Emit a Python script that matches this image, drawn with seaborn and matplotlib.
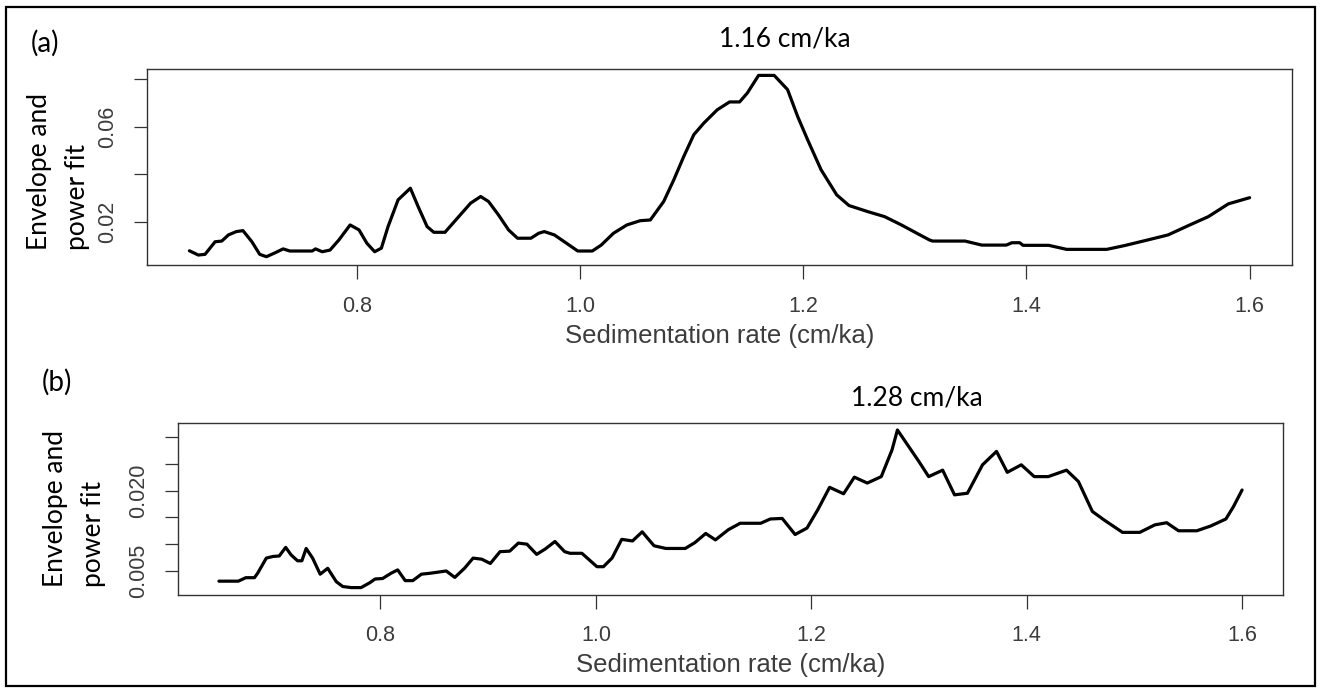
import matplotlib
matplotlib.use("Agg")
import matplotlib.pyplot as plt
import seaborn as sns
import pandas as pd
from matplotlib.patches import Rectangle

# ---- data -----------------------------------------------------------------
rate_a = [0.650, 0.658, 0.664, 0.673, 0.679, 0.685, 0.692, 0.698, 0.706, 0.713,
          0.719, 0.727, 0.734, 0.740, 0.760, 0.763, 0.769, 0.776, 0.784, 0.794,
          0.802, 0.809, 0.816, 0.822, 0.828, 0.837, 0.848, 0.855, 0.863, 0.869,
          0.879, 0.890, 0.902, 0.911, 0.918, 0.927, 0.936, 0.944, 0.956, 0.963,
          0.968, 0.977, 0.986, 0.998, 1.011, 1.019, 1.030, 1.042, 1.054, 1.063,
          1.075, 1.084, 1.093, 1.102, 1.111, 1.123, 1.134, 1.143, 1.150, 1.160,
          1.174, 1.186, 1.195, 1.204, 1.216, 1.230, 1.241, 1.258, 1.273, 1.288,
          1.303, 1.313, 1.316, 1.345, 1.360, 1.382, 1.387, 1.394, 1.397, 1.420,
          1.436, 1.472, 1.488, 1.509, 1.527, 1.545, 1.563, 1.581, 1.600]
env_a = [0.0077, 0.0059, 0.0062, 0.0115, 0.0118, 0.0144, 0.0158, 0.0162, 0.0115, 0.0062,
         0.0052, 0.0069, 0.0085, 0.0076, 0.0076, 0.0085, 0.0073, 0.0080, 0.0123, 0.0186,
         0.0165, 0.0109, 0.0073, 0.0088, 0.0179, 0.0292, 0.0341, 0.0263, 0.0179, 0.0155,
         0.0155, 0.0214, 0.0278, 0.0306, 0.0285, 0.0228, 0.0165, 0.0130, 0.0130, 0.0151,
         0.0158, 0.0144, 0.0115, 0.0076, 0.0076, 0.0101, 0.0151, 0.0186, 0.0204, 0.0207,
         0.0285, 0.0376, 0.0475, 0.0567, 0.0616, 0.0672, 0.0705, 0.0705, 0.0743, 0.0817,
         0.0817, 0.0757, 0.0644, 0.0545, 0.0419, 0.0313, 0.0268, 0.0242, 0.0221, 0.0186,
         0.0148, 0.0123, 0.0118, 0.0118, 0.0101, 0.0101, 0.0111, 0.0111, 0.0100, 0.0100,
         0.0083, 0.0083, 0.0099, 0.0123, 0.0144, 0.0183, 0.0221, 0.0275, 0.0301]

rate_b = [0.650, 0.668, 0.675, 0.683, 0.686, 0.694, 0.700, 0.706, 0.712, 0.717,
          0.723, 0.727, 0.731, 0.737, 0.744, 0.751, 0.759, 0.765, 0.773, 0.782,
          0.790, 0.795, 0.802, 0.810, 0.816, 0.823, 0.830, 0.838, 0.847, 0.861,
          0.869, 0.878, 0.886, 0.894, 0.902, 0.911, 0.920, 0.928, 0.936, 0.945,
          0.953, 0.962, 0.971, 0.976, 0.987, 1.001, 1.007, 1.015, 1.024, 1.034,
          1.043, 1.054, 1.065, 1.083, 1.092, 1.102, 1.111, 1.123, 1.134, 1.153,
          1.162, 1.173, 1.185, 1.196, 1.206, 1.217, 1.230, 1.240, 1.252, 1.265,
          1.275, 1.280, 1.300, 1.309, 1.322, 1.333, 1.345, 1.359, 1.372, 1.382,
          1.395, 1.407, 1.420, 1.437, 1.448, 1.461, 1.472, 1.489, 1.505, 1.519,
          1.530, 1.541, 1.558, 1.571, 1.585, 1.592, 1.600]
env_b = [0.0031, 0.0031, 0.00375, 0.00375, 0.0046, 0.0074, 0.0077, 0.0078, 0.0094, 0.0080,
         0.0069, 0.0069, 0.0092, 0.0074, 0.0044, 0.0055, 0.0030, 0.0021, 0.0019, 0.0019,
         0.0028, 0.0035, 0.0036, 0.0046, 0.0052, 0.0032, 0.0032, 0.0044, 0.0046, 0.0050,
         0.0038, 0.0055, 0.0074, 0.0072, 0.0064, 0.0086, 0.0087, 0.0102, 0.0100, 0.0081,
         0.0091, 0.0105, 0.0086, 0.0083, 0.0083, 0.0058, 0.0058, 0.0074, 0.0109, 0.0106,
         0.0123, 0.0097, 0.0092, 0.0092, 0.0103, 0.0120, 0.0108, 0.0127, 0.0139, 0.0139,
         0.0147, 0.0148, 0.0118, 0.0130, 0.0164, 0.0206, 0.0194, 0.0225, 0.0214, 0.0226,
         0.0276, 0.0313, 0.0254, 0.0226, 0.0238, 0.0192, 0.0195, 0.0248, 0.0273, 0.0234,
         0.0248, 0.0226, 0.0226, 0.0238, 0.0217, 0.0161, 0.0145, 0.0122, 0.0122, 0.0136,
         0.0140, 0.0125, 0.0125, 0.0134, 0.0147, 0.0170, 0.0201]

panel_tags = ["(a)", "(b)"]
peak_labels = ["1.16 cm/ka", "1.28 cm/ka"]
x_label = "Sedimentation rate (cm/ka)"
y_label_lines = ["Envelope and", "power fit"]
x_ticks = [0.8, 1.0, 1.2, 1.4, 1.6]
y_ticks_a = [0.02, 0.04, 0.06, 0.08]
y_ticklabels_a = ["0.02", "", "0.06", ""]
y_ticks_b = [0.005, 0.010, 0.015, 0.020, 0.025, 0.030]
y_ticklabels_b = ["0.005", "", "", "0.020", "", ""]

# ---- figure ---------------------------------------------------------------
W, H = 1320, 688
sns.set_theme(style="white")
plt.rcParams["font.family"] = ["Liberation Sans", "DejaVu Sans"]
fig = plt.figure(figsize=(W / 100, H / 100), dpi=100)
fig.patch.set_facecolor("white")


def px_box(left, top, right, bottom):
    return [left / W, 1 - bottom / H, (right - left) / W, (bottom - top) / H]


def fx(x):
    return x / W


def fy(y):
    return 1 - y / H


AX_COL = "#333333"
TXT_COL = "#3c3c3c"
LABEL_FONT = ["Lato", "DejaVu Sans"]

ax_a = fig.add_axes(px_box(147, 69, 1292, 265))
ax_b = fig.add_axes(px_box(178, 423, 1283, 595))

panels = [
    (ax_a, rate_a, env_a, y_ticks_a, y_ticklabels_a, (0.0017, 0.0844), 12.5),
    (ax_b, rate_b, env_b, y_ticks_b, y_ticklabels_b, (0.00052, 0.0326), 11.5),
]

for ax, xs, ys, yt, ytl, ylim, xpad in panels:
    df = pd.DataFrame({"rate": xs, "env": ys})
    sns.lineplot(data=df, x="rate", y="env", ax=ax, color="black",
                 linewidth=2.3, sort=False)
    ax.set_xlim(0.612, 1.638)
    ax.set_ylim(*ylim)
    ax.set_xticks(x_ticks)
    ax.set_xticklabels([f"{t:.1f}" for t in x_ticks])
    ax.set_yticks(yt)
    ax.set_yticklabels(ytl, rotation=90, va="center")
    ax.set_ylabel("")
    ax.set_xlabel(x_label, fontsize=18.5, color=TXT_COL, labelpad=5)
    for sp in ax.spines.values():
        sp.set_visible(True)
        sp.set_color(AX_COL)
        sp.set_linewidth(1.0)
    ax.tick_params(axis="x", direction="out", length=10, width=0.9,
                   color=AX_COL, labelsize=15.5, labelcolor=TXT_COL, pad=xpad,
                   bottom=True)
    ax.tick_params(axis="y", direction="out", length=9.5, width=0.9,
                   color=AX_COL, labelsize=15.5, labelcolor=TXT_COL, pad=11.5,
                   left=True)
    ax.grid(False)

# y-axis titles, two lines each, reading bottom to top
for (x1, x2, ybot) in [(40, 77, 250), (55, 93.5, 587)]:
    fig.text(fx(x1), fy(ybot), y_label_lines[0], rotation=90, ha="center",
             va="bottom", fontsize=19, family=LABEL_FONT, color="black")
    fig.text(fx(x2), fy(ybot), y_label_lines[1], rotation=90, ha="center",
             va="bottom", fontsize=19, family=LABEL_FONT, color="black")

# panel tags and peak annotations
fig.text(fx(45), fy(43), panel_tags[0], ha="center", va="center",
         fontsize=20, family=LABEL_FONT, color="black")
fig.text(fx(57), fy(382), panel_tags[1], ha="center", va="center",
         fontsize=20, family=LABEL_FONT, color="black")
fig.text(fx(785), fy(46), peak_labels[0], ha="center", va="baseline",
         fontsize=19, family=LABEL_FONT, color="black")
fig.text(fx(917), fy(405), peak_labels[1], ha="center", va="baseline",
         fontsize=19, family=LABEL_FONT, color="black")

# outer frame
fig.add_artist(Rectangle((fx(6), fy(686)), (1315 - 6) / W, (686 - 7) / H,
                         transform=fig.transFigure, fill=False,
                         edgecolor="black", linewidth=1.6))

fig.savefig("out.png", dpi=100, facecolor="white")
